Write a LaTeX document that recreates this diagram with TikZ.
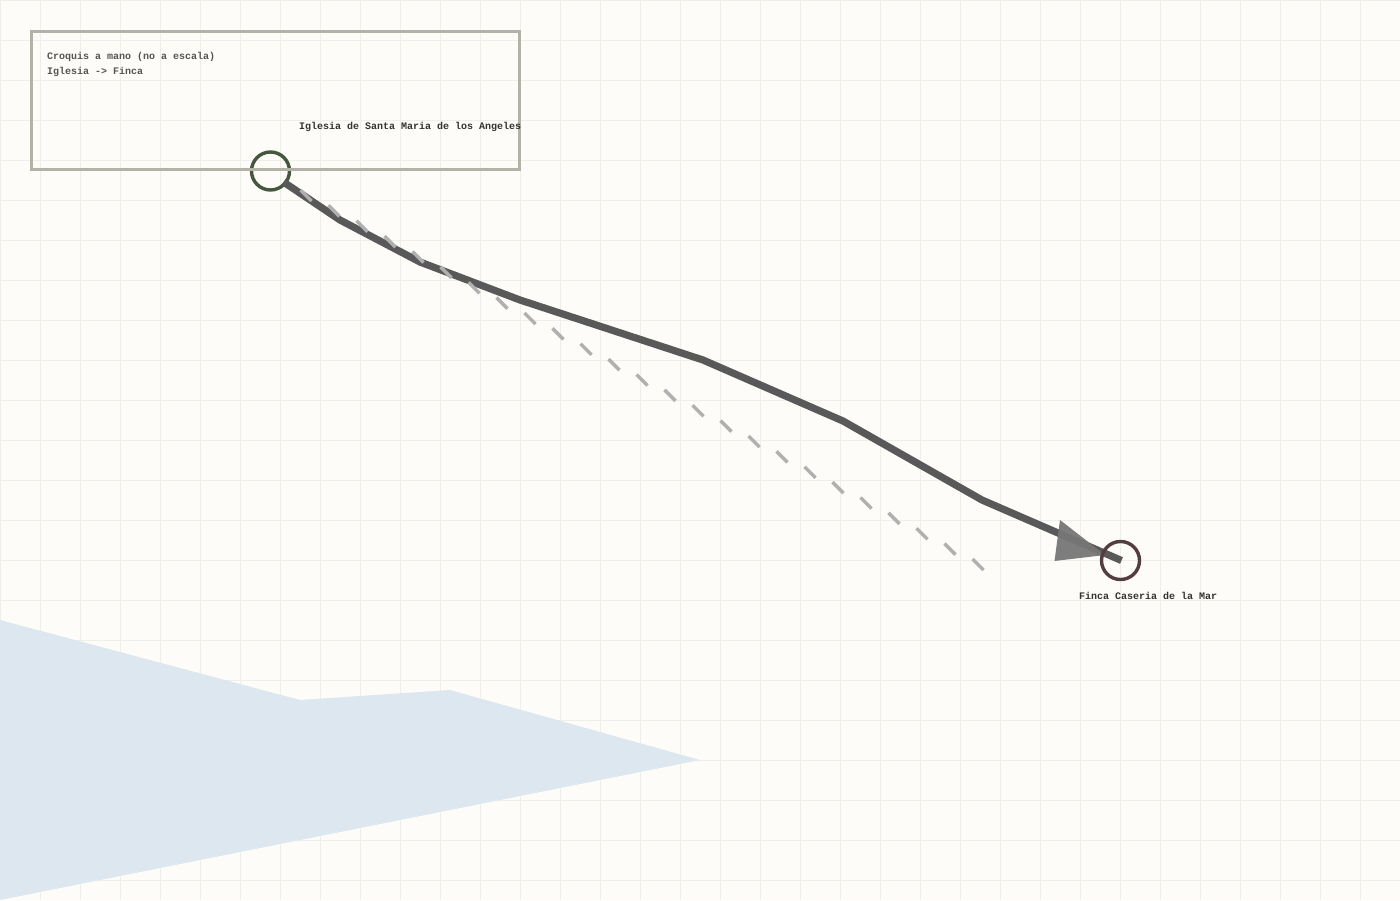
\documentclass[tikz,border=0pt]{standalone}
\usepackage{fontspec}
\setmonofont{Liberation Mono}
\usetikzlibrary{calc}
\definecolor{paper}{HTML}{FDFCF8}
\definecolor{gridc}{HTML}{EFEFE9}
\definecolor{water}{HTML}{DCE7F0}
\definecolor{framec}{HTML}{B2B2A6}
\definecolor{routec}{HTML}{595959}
\definecolor{dashc}{HTML}{B0B0B0}
\definecolor{headc}{HTML}{767676}
\definecolor{startc}{HTML}{46573F}
\definecolor{endc}{HTML}{543D42}
\definecolor{notec}{HTML}{555555}
\definecolor{labelc}{HTML}{333333}
\pgfdeclarelayer{front}
\pgfsetlayers{main,front}
\tikzset{
  gridline/.style={draw=gridc,line width=1pt},
  framebox/.style={draw=framec,line width=3pt},
  ring/.style={circle,minimum size=38pt,inner sep=0pt,line width=3.4pt,fill=none},
  route/.style={draw=routec,line width=7.2pt,line join=round},
  tick/.style={draw=dashc,line width=3.4pt},
  headtip/.style={fill=headc,fill opacity=.94,draw=none},
  note/.style={font=\ttfamily\bfseries\fontsize{10pt}{10pt}\selectfont,text=notec,anchor=base west,inner sep=0pt},
  placelabel/.style={font=\ttfamily\bfseries\fontsize{10pt}{10pt}\selectfont,text=labelc,anchor=base west,inner sep=0pt},
}
\begin{document}
\begin{tikzpicture}[x=1pt,y=-1pt]
\useasboundingbox (0,0) rectangle (1400,900);
\fill[paper] (0,0) rectangle (1400,900);
\foreach \i in {0,40,...,1400} {\draw[gridline] (\i+.5,0) -- (\i+.5,900);}
\foreach \j in {0,40,...,880} {\draw[gridline] (0,\j+.5) -- (1400,\j+.5);}
\fill[water] (0,620) -- (300,700) -- (450,690) -- (700,760) -- (0,900) -- cycle;
\node[ring,draw=startc] (iglesia) at (270.5,171) {};
\begin{pgfonlayer}{front}
\node[ring,draw=endc] (finca) at (1120.5,560.5) {};
\end{pgfonlayer}
\draw[framebox] (31.5,31.5) rectangle (519.5,169.5);
\draw[route] ($(iglesia)+(13,11)$) -- (340,220) -- (420,262) -- (520,300) -- (703,360) -- (843,421) -- (982,500) -- ($(finca)+(1,0)$);
\coordinate (dashorigin) at ($(iglesia)+(30,19)$);
\foreach \k in {0,...,24} {
  \draw[tick] ($(dashorigin)+(\k*28,\k*15.375)$) -- ++(11,11);
}
\fill[headtip] (1060,520) -- (1054.5,561) -- (1105,555) -- cycle;
\node[note] (n1) at (47,59) {Croquis a mano (no a escala)};
\node[note] (n2) at (47,74) {Iglesia -> Finca};
\node[placelabel] (l1) at (299,129) {Iglesia de Santa Maria de los Angeles};
\node[placelabel] (l2) at (1079,599) {Finca Caseria de la Mar};
\end{tikzpicture}
\end{document}
